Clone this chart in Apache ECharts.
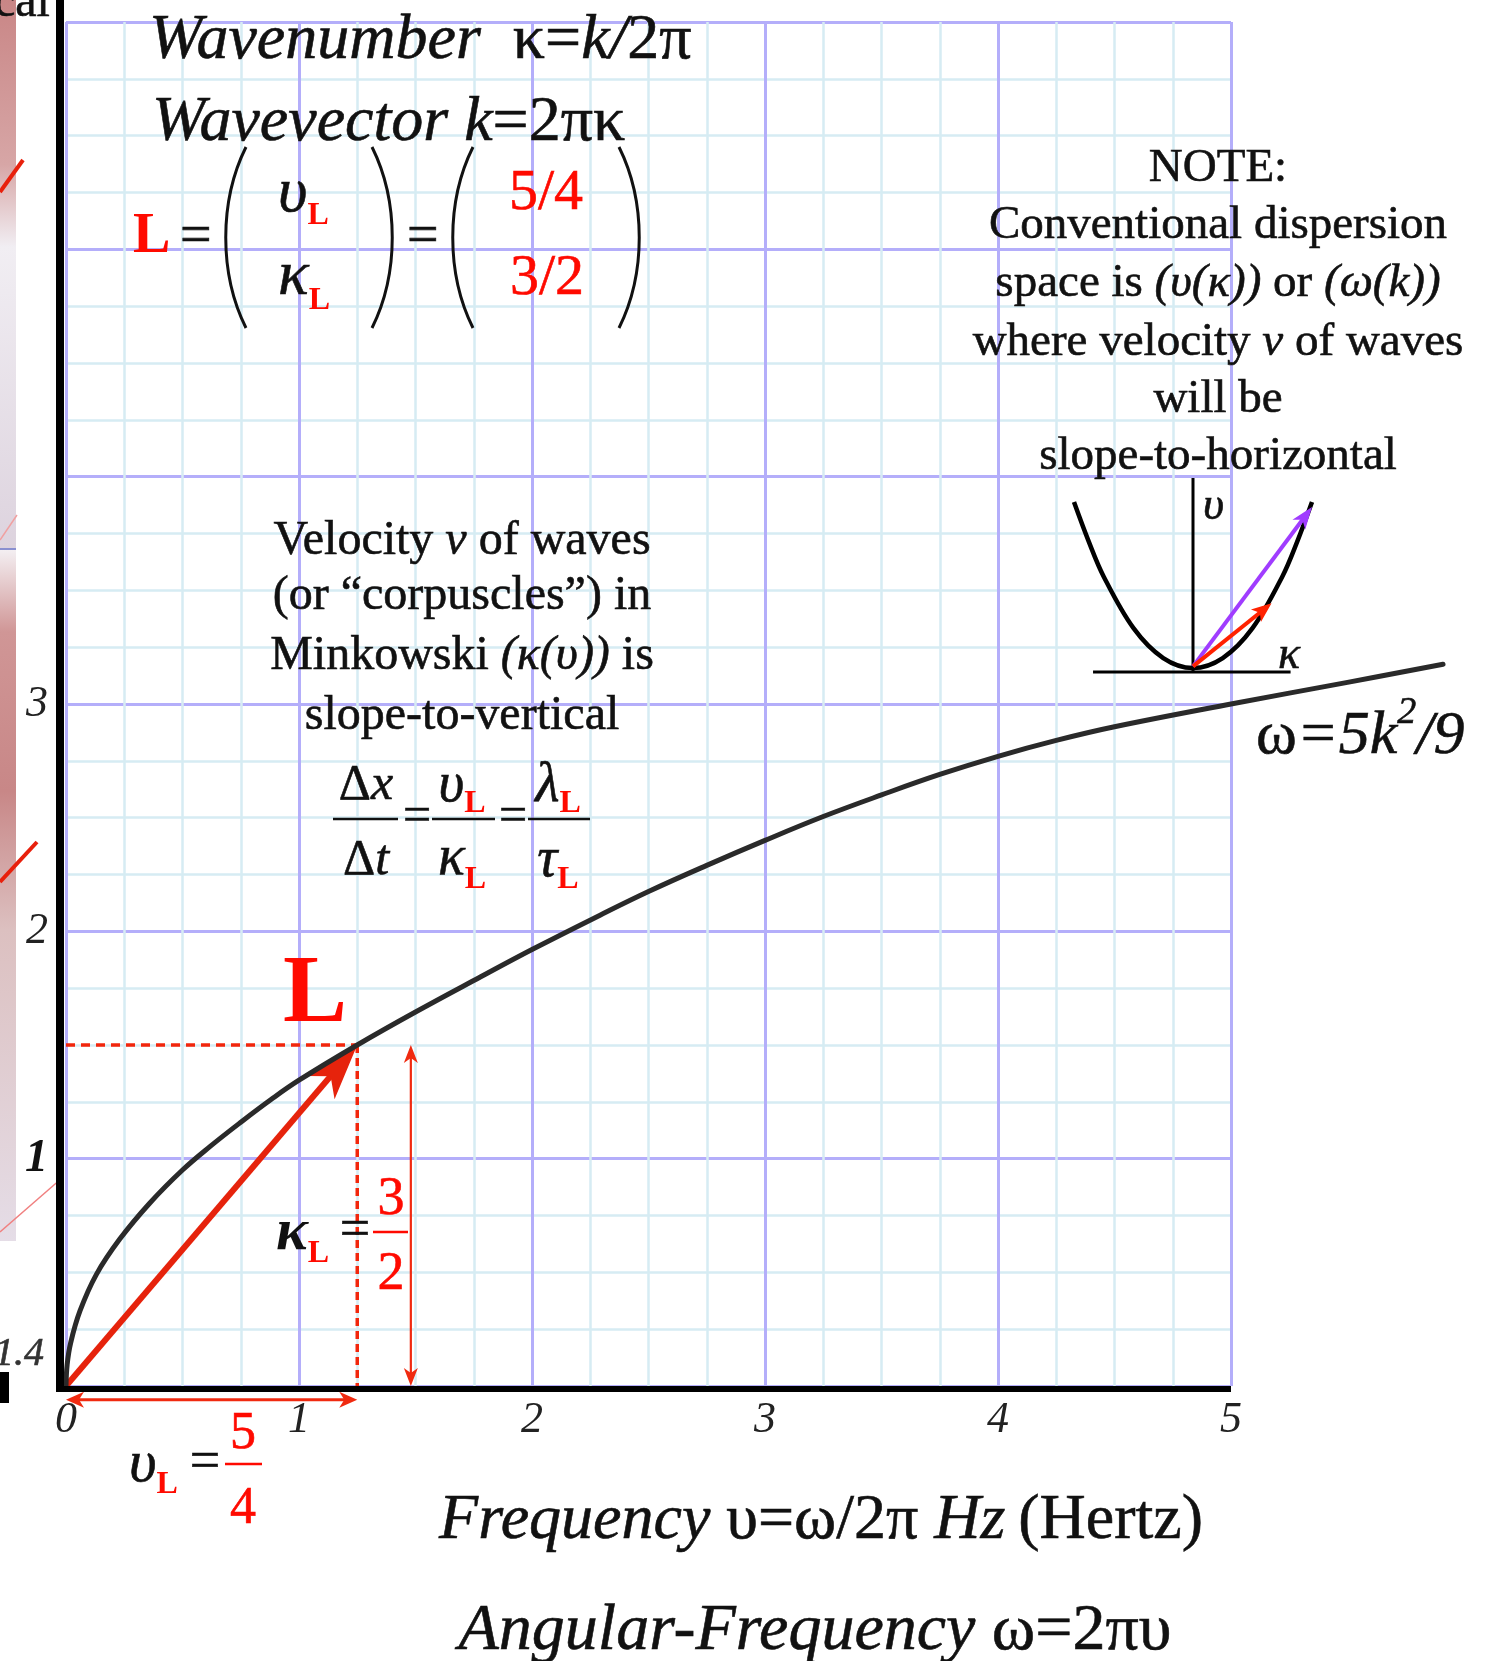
<!DOCTYPE html>
<html>
<head>
<meta charset="utf-8">
<title>Dispersion: frequency vs wavenumber</title>
<script src="https://cdn.jsdelivr.net/npm/echarts@6/dist/echarts.min.js"></script>
<style>
  html, body { margin: 0; padding: 0; background: #ffffff; }
  #chart { width: 1490px; height: 1661px; }
</style>
</head>
<body>
<div id="chart"></div>
<script>
// ---- data -------------------------------------------------------------
// Dispersion curve: frequency υ (Hz) on x, wavenumber κ on y
const FREQ = [0, 0.005, 0.02, 0.06, 0.13, 0.23, 0.36, 0.5, 0.62, 0.75, 0.88, 1.0, 1.25, 1.5, 1.78, 2.0, 2.29, 2.5, 2.75, 3.0, 3.25, 3.5, 3.75, 4.0, 4.25, 4.5, 5.0, 5.5, 5.91];
const WAVE = [0, 0.095, 0.19, 0.33, 0.49, 0.645, 0.805, 0.95, 1.055, 1.16, 1.26, 1.345, 1.5, 1.645, 1.80, 1.92, 2.07, 2.175, 2.29, 2.40, 2.505, 2.60, 2.69, 2.77, 2.84, 2.90, 3.0, 3.095, 3.175];

// Point L = (υ_L, κ_L)
const L_FREQ = [5, 4];   // υ_L = 5/4
const L_WAVE = [3, 2];   // κ_L = 3/2
const L_POINT = [L_FREQ[0] / L_FREQ[1], L_WAVE[0] / L_WAVE[1]];

// Axis ticks
const X_TICKS = [0, 1, 2, 3, 4, 5];
const Y_MAX = 6;
const Y_TICKS_SHOWN = [1, 2, 3];

// Inset sketch: conventional dispersion parabola υ(κ)
const INSET_K = [-1, -0.875, -0.75, -0.5, -0.25, 0, 0.25, 0.5, 0.75, 0.875, 1];
const INSET_V = [1, 0.76, 0.55, 0.24, 0.06, 0, 0.06, 0.24, 0.55, 0.76, 1];
const INSET_GROUP_ARROW = [0, 0.01, 1.0, 0.97];
const INSET_PHASE_ARROW = [0, 0.01, 0.66, 0.39];
const INSET_AXIS_H = [[-0.84, -0.024], [0.82, -0.024]];
const INSET_AXIS_V = [[0, -0.024], [0, 1.145]];

// ---- helpers ----------------------------------------------------------
const SERIF = '"Liberation Serif","Times New Roman",serif';
const RED = '#ff0a00';
const INK = '#111111';
const mctx = document.createElement('canvas').getContext('2d');

function fontStr(s) {
  return (s.i ? 'italic ' : '') + (s.b ? 'bold ' : '') + s.size + 'px ' + SERIF;
}

// Lay out a run of differently styled text pieces on one baseline
function runs(x, base, align, segs, defSize) {
  const items = segs.map(s => (typeof s === 'string' ? { t: s } : s))
    .map(s => Object.assign({ size: defSize || 46 }, s));
  const widths = items.map(s => { mctx.font = fontStr(s); return mctx.measureText(s.t).width; });
  const total = widths.reduce((a, b) => a + b, 0);
  let cx = align === 'center' ? x - total / 2 : (align === 'right' ? x - total : x);
  return items.map((s, k) => {
    const col = s.c || INK;
    const el = {
      type: 'text', z: 100, x: cx, y: base + (s.dy || 0) - 0.25 * s.size,
      style: {
        text: s.t, font: fontStr(s), fill: col,
        stroke: col, lineWidth: s.b ? 0 : 0.6,
        align: 'left', verticalAlign: 'middle', textAlign: 'left', textVerticalAlign: 'middle'
      }
    };
    cx += widths[k];
    return el;
  });
}

function hline(x1, x2, y, color, w) {
  return { type: 'line', z: 100, shape: { x1: x1, y1: y, x2: x2, y2: y }, style: { stroke: color, lineWidth: w || 2.5 } };
}

function paren(xl, top, bottom, right) {
  const w = 21, h = bottom - top;
  const shape = !right
    ? { x1: xl + w, y1: top, cpx1: xl - 6, cpy1: top + h * 0.3, cpx2: xl - 6, cpy2: bottom - h * 0.3, x2: xl + w, y2: bottom }
    : { x1: xl, y1: top, cpx1: xl + w + 6, cpy1: top + h * 0.3, cpx2: xl + w + 6, cpy2: bottom - h * 0.3, x2: xl, y2: bottom };
  return { type: 'bezierCurve', z: 100, shape: shape, style: { stroke: INK, lineWidth: 3, fill: null } };
}

// Arrow drawn in data coordinates: item = [x1, y1, x2, y2]
function arrowSeries(name, data, axisIdx, cfg) {
  return {
    type: 'custom', name: name, xAxisIndex: axisIdx, yAxisIndex: axisIdx,
    clip: false, z: cfg.z || 6, silent: true, data: data,
    renderItem: function (params, api) {
      const a = api.coord([api.value(0), api.value(1)]);
      const b = api.coord([api.value(2), api.value(3)]);
      const dx = b[0] - a[0], dy = b[1] - a[1];
      const len = Math.hypot(dx, dy);
      const ux = dx / len, uy = dy / len, px = -uy, py = ux;
      const head = (tip, dir) => {
        const bx = tip[0] - dir[0] * cfg.len, by = tip[1] - dir[1] * cfg.len;
        const nx = tip[0] - dir[0] * cfg.notch, ny = tip[1] - dir[1] * cfg.notch;
        return {
          type: 'polygon',
          shape: { points: [[tip[0], tip[1]], [bx + px * cfg.hw, by + py * cfg.hw], [nx, ny], [bx - px * cfg.hw, by - py * cfg.hw]] },
          style: { fill: cfg.color }
        };
      };
      const kids = [];
      let s = a, e = b;
      if (cfg.start) { s = [a[0] + ux * cfg.notch * 0.9, a[1] + uy * cfg.notch * 0.9]; kids.push(head(a, [-ux, -uy])); }
      if (cfg.end) { e = [b[0] - ux * cfg.notch * 0.9, b[1] - uy * cfg.notch * 0.9]; kids.push(head(b, [ux, uy])); }
      kids.unshift({ type: 'line', shape: { x1: s[0], y1: s[1], x2: e[0], y2: e[1] }, style: { stroke: cfg.color, lineWidth: cfg.width, lineCap: 'butt' } });
      return { type: 'group', children: kids };
    }
  };
}

// ---- chart ------------------------------------------------------------
const chart = echarts.init(document.getElementById('chart'), null, { renderer: 'canvas' });

const curveData = FREQ.map((f, i) => [f, WAVE[i]]);
const insetData = INSET_K.map((k, i) => [k, INSET_V[i]]);

// plot frame: x 0..5 over 1165 px, y 0..6
const PLOT = { left: 66, top: 22, bottom: 275, width: 1165 };
const X_MAX = X_TICKS[X_TICKS.length - 1];
const X_MAX_WIDE = 6;  // same scale, wider frame so the curve can run past υ = 5

const option = {
  animation: false,
  backgroundColor: '#ffffff',
  grid: [
    { left: PLOT.left, top: PLOT.top, bottom: PLOT.bottom, width: PLOT.width },
    { left: 1074, top: 502, width: 238, height: 166 },
    { left: PLOT.left, top: PLOT.top, bottom: PLOT.bottom, width: PLOT.width * X_MAX_WIDE / X_MAX }
  ],
  xAxis: [
    {
      gridIndex: 0, type: 'value', min: X_TICKS[0], max: X_MAX, interval: 1,
      axisLine: { show: false }, axisTick: { show: false },
      axisLabel: { fontFamily: SERIF, fontStyle: 'italic', fontSize: 44, color: '#222', margin: 12 },
      splitLine: { show: true, lineStyle: { color: '#b4aefa', width: 3 } },
      minorTick: { show: false, splitNumber: 4 },
      minorSplitLine: { show: true, lineStyle: { color: '#d6ecf3', width: 2.5 } }
    },
    { gridIndex: 1, type: 'value', min: -1, max: 1, show: false },
    { gridIndex: 2, type: 'value', min: 0, max: X_MAX_WIDE, show: false }
  ],
  yAxis: [
    {
      gridIndex: 0, type: 'value', min: 0, max: Y_MAX, interval: 1,
      axisLine: { show: false }, axisTick: { show: false },
      axisLabel: {
        fontFamily: SERIF, fontStyle: 'italic', fontSize: 44, color: '#222', margin: 18,
        formatter: v => (Y_TICKS_SHOWN.indexOf(v) < 0 ? '' : (v === 1 ? '{b|1}' : String(v))),
        rich: { b: { fontFamily: SERIF, fontStyle: 'italic', fontWeight: 'bold', fontSize: 46, color: '#111' } }
      },
      splitLine: { show: true, lineStyle: { color: '#b4aefa', width: 3 } },
      minorTick: { show: false, splitNumber: 4 },
      minorSplitLine: { show: true, lineStyle: { color: '#d6ecf3', width: 2.5 } }
    },
    { gridIndex: 1, type: 'value', min: 0, max: 1, show: false },
    { gridIndex: 2, type: 'value', min: 0, max: Y_MAX, show: false }
  ],
  series: [
    // dashed projections of L onto the axes
    {
      type: 'line', name: 'κL guide', xAxisIndex: 0, yAxisIndex: 0, symbol: 'none', clip: false, z: 4,
      data: [[0, L_POINT[1]], [L_POINT[0], L_POINT[1]]],
      lineStyle: { color: '#f2260c', width: 3.5, type: [9, 6] }
    },
    {
      type: 'line', name: 'υL guide', xAxisIndex: 0, yAxisIndex: 0, symbol: 'none', clip: false, z: 4,
      data: [[L_POINT[0], L_POINT[1]], [L_POINT[0], 0]],
      lineStyle: { color: '#f2260c', width: 3.5, type: [8, 5] }
    },
    // vector from origin to L
    arrowSeries('L vector', [[0, 0, L_POINT[0], L_POINT[1]]], 0,
      { color: '#e6230c', width: 6, len: 56, hw: 18, notch: 41, end: true, z: 7 }),
    // κ_L dimension arrow
    arrowSeries('κL span', [[1.48, 0, 1.48, L_POINT[1]]], 0,
      { color: '#f02a10', width: 2.2, len: 18, hw: 7, notch: 13, start: true, end: true, z: 7 }),
    // υ_L dimension arrow, just under the frequency axis
    arrowSeries('υL span', [[0, -0.06, L_POINT[0], -0.06]], 0,
      { color: '#f02a10', width: 3, len: 18, hw: 8, notch: 13, start: true, end: true, z: 7 }),
    // dispersion curve ω = 5k²/9
    {
      type: 'line', name: 'ω=5k²/9', xAxisIndex: 2, yAxisIndex: 2, data: curveData,
      smooth: 0.4, symbol: 'none', clip: false, z: 8,
      lineStyle: { color: '#2a2a2a', width: 5, cap: 'round', join: 'round' }
    },
    // inset sketch
    {
      type: 'line', name: 'inset κ axis', xAxisIndex: 1, yAxisIndex: 1, data: INSET_AXIS_H,
      symbol: 'none', clip: false, z: 9, lineStyle: { color: '#000', width: 3 }
    },
    {
      type: 'line', name: 'inset υ axis', xAxisIndex: 1, yAxisIndex: 1, data: INSET_AXIS_V,
      symbol: 'none', clip: false, z: 9, lineStyle: { color: '#000', width: 3 }
    },
    {
      type: 'line', name: 'inset parabola', xAxisIndex: 1, yAxisIndex: 1, data: insetData,
      smooth: 0.35, symbol: 'none', clip: false, z: 9, lineStyle: { color: '#000', width: 4.5, join: 'round' }
    },
    arrowSeries('inset group', [INSET_GROUP_ARROW], 1,
      { color: '#a03cff', width: 4, len: 22, hw: 8, notch: 16, end: true, z: 10 }),
    arrowSeries('inset phase', [INSET_PHASE_ARROW], 1,
      { color: '#ff2200', width: 4, len: 20, hw: 8, notch: 15, end: true, z: 10 })
  ]
};

chart.setOption(option);

// ---- annotations ------------------------------------------------------
const o = chart.convertToPixel({ gridIndex: 0 }, [0, 0]);
const tr = chart.convertToPixel({ gridIndex: 0 }, [X_MAX, Y_MAX]);

const g = [];

// heavy black axes
g.push({ type: 'line', z: 90, shape: { x1: o[0] - 6, y1: 0, x2: o[0] - 6, y2: o[1] + 6 }, style: { stroke: '#000', lineWidth: 8 } });
g.push({ type: 'line', z: 90, shape: { x1: o[0] - 10, y1: o[1] + 3, x2: tr[0], y2: o[1] + 3 }, style: { stroke: '#000', lineWidth: 6 } });

// strip of a neighbouring panel at the far left
g.push({
  type: 'rect', z: 1, shape: { x: 0, y: 0, width: 16, height: 549 },
  style: { fill: new echarts.graphic.LinearGradient(0, 0, 0, 1, [
    { offset: 0, color: '#c98686' }, { offset: 0.3, color: '#d7a6a6' },
    { offset: 0.45, color: '#f1eef3' }, { offset: 1, color: '#ddd3de' }]) }
});
g.push({
  type: 'rect', z: 1, shape: { x: 0, y: 549, width: 16, height: 692 },
  style: { fill: new echarts.graphic.LinearGradient(0, 0, 0, 1, [
    { offset: 0, color: '#f4f0f3' }, { offset: 0.12, color: '#d09696' },
    { offset: 0.35, color: '#c88787' }, { offset: 0.55, color: '#dcc0c0' }, { offset: 1, color: '#e5dde7' }]) }
});
g.push({ type: 'line', z: 2, shape: { x1: 0, y1: 549, x2: 16, y2: 549 }, style: { stroke: '#8a90d0', lineWidth: 2 } });
g.push({ type: 'line', z: 2, shape: { x1: 0, y1: 192, x2: 23, y2: 160 }, style: { stroke: '#e8200c', lineWidth: 4 } });
g.push({ type: 'line', z: 2, shape: { x1: 0, y1: 882, x2: 37, y2: 842 }, style: { stroke: '#e8200c', lineWidth: 4 } });
g.push({ type: 'line', z: 2, shape: { x1: 0, y1: 540, x2: 17, y2: 515 }, style: { stroke: '#f0a0a0', lineWidth: 1.5 } });
g.push({ type: 'line', z: 2, shape: { x1: 0, y1: 1232, x2: 62, y2: 1178 }, style: { stroke: '#f08080', lineWidth: 1.5 } });
g.push({ type: 'rect', z: 2, shape: { x: 0, y: 1372, width: 9, height: 31 }, style: { fill: '#000' } });
g.push(...runs(-6, 15, 'left', [{ t: 'cal', size: 48 }]));
g.push(...runs(-6, 1364, 'left', [{ t: '1.4', size: 40, i: 1, c: '#333' }]));

// headings
g.push(...runs(149, 57, 'left', [{ t: 'Wavenumber  ', i: 1 }, { t: 'κ=' }, { t: 'k/', i: 1 }, { t: '2π' }], 64));
g.push(...runs(152, 139, 'left', [{ t: 'Wavevector k', i: 1 }, { t: '=2πκ' }], 64));

// L column vector
g.push(...runs(133, 252, 'left', [{ t: 'L', size: 56, b: 1, c: RED }]));
g.push(...runs(180, 252, 'left', [{ t: '=', size: 56 }]));
g.push(paren(225, 147, 328, false));
g.push(...runs(278, 210, 'left', [{ t: 'υ', size: 64, i: 1 }, { t: 'L', size: 32, b: 1, c: RED, dy: 14 }]));
g.push(...runs(278, 293, 'left', [{ t: 'κ', size: 64, i: 1 }, { t: 'L', size: 32, b: 1, c: RED, dy: 16 }]));
g.push(paren(372, 147, 328, true));
g.push(...runs(407, 252, 'left', [{ t: '=', size: 56 }]));
g.push(paren(452, 147, 328, false));
g.push(...runs(546, 208, 'center', [{ t: L_FREQ[0] + '/' + L_FREQ[1], size: 58, c: RED }]));
g.push(...runs(547, 293, 'center', [{ t: L_WAVE[0] + '/' + L_WAVE[1], size: 58, c: RED }]));
g.push(paren(619, 147, 328, true));

// velocity note (Minkowski view)
const VX = 462;
g.push(...runs(VX, 553, 'center', ['Velocity ', { t: 'v', i: 1 }, ' of waves'], 48));
g.push(...runs(VX, 608, 'center', ['(or “corpuscles”) in'], 48));
g.push(...runs(VX, 668, 'center', ['Minkowski ', { t: '(κ(υ))', i: 1 }, ' is'], 48));
g.push(...runs(VX, 728, 'center', ['slope-to-vertical'], 48));

// Δx/Δt = υL/κL = λL/τL
g.push(...runs(366, 798, 'center', [{ t: 'Δ' }, { t: 'x', i: 1 }], 50));
g.push(...runs(366, 873, 'center', [{ t: 'Δ' }, { t: 't', i: 1 }], 50));
g.push(hline(333, 398, 819, INK, 2.5));
g.push(...runs(417, 830, 'center', [{ t: '=' }], 50));
g.push(...runs(462, 800, 'center', [{ t: 'υ', size: 56, i: 1 }, { t: 'L', size: 32, b: 1, c: RED, dy: 12 }]));
g.push(...runs(462, 873, 'center', [{ t: 'κ', size: 56, i: 1 }, { t: 'L', size: 32, b: 1, c: RED, dy: 15 }]));
g.push(hline(432, 495, 819, INK, 2.5));
g.push(...runs(513, 830, 'center', [{ t: '=' }], 50));
g.push(...runs(558, 800, 'center', [{ t: 'λ', size: 56, i: 1 }, { t: 'L', size: 32, b: 1, c: RED, dy: 12 }]));
g.push(...runs(558, 875, 'center', [{ t: 'τ', size: 56, i: 1 }, { t: 'L', size: 32, b: 1, c: RED, dy: 13 }]));
g.push(hline(528, 590, 819, INK, 2.5));

// big L marker label
g.push(...runs(283, 1020, 'left', [{ t: 'L', size: 96, b: 1, c: RED }]));

// κ_L = 3/2
g.push(...runs(276, 1248, 'left', [{ t: 'κ', size: 60, i: 1, b: 1 }, { t: 'L', size: 32, b: 1, c: RED, dy: 14 }]));
g.push(...runs(355, 1245, 'center', [{ t: '=', size: 54 }]));
g.push(hline(373, 408, 1232, RED, 2.5));
g.push(...runs(391, 1213, 'center', [{ t: String(L_WAVE[0]), size: 54, c: RED }]));
g.push(...runs(391, 1288, 'center', [{ t: String(L_WAVE[1]), size: 54, c: RED }]));

// υ_L = 5/4
g.push(...runs(129, 1480, 'left', [{ t: 'υ', size: 60, i: 1 }, { t: 'L', size: 32, b: 1, c: RED, dy: 13 }]));
g.push(...runs(205, 1477, 'center', [{ t: '=', size: 54 }]));
g.push(hline(225, 262, 1464, RED, 2.5));
g.push(...runs(243, 1447, 'center', [{ t: String(L_FREQ[0]), size: 52, c: RED }]));
g.push(...runs(243, 1522, 'center', [{ t: String(L_FREQ[1]), size: 52, c: RED }]));

// conventional dispersion note
const NX = 1218;
g.push(...runs(NX, 180, 'center', ['NOTE:'], 47));
g.push(...runs(NX, 237, 'center', ['Conventional dispersion'], 47));
g.push(...runs(NX, 295, 'center', ['space is ', { t: '(υ(κ))', i: 1 }, ' or ', { t: '(ω(k))', i: 1 }], 47));
g.push(...runs(NX, 354, 'center', ['where velocity ', { t: 'v', i: 1 }, ' of waves'], 47));
g.push(...runs(NX, 411, 'center', ['will be'], 47));
g.push(...runs(NX, 468, 'center', ['slope-to-horizontal'], 47));

// inset axis names
g.push(...runs(1203, 518, 'left', [{ t: 'υ', size: 46, i: 1 }]));
g.push(...runs(1278, 667, 'left', [{ t: 'κ', size: 46, i: 1 }]));

// curve label
g.push(...runs(1256, 752, 'left', [{ t: 'ω' }, { t: '=5k', i: 1 }, { t: '2', i: 1, size: 38, dy: -29 }, { t: '/9', i: 1 }], 62));

// axis titles
g.push(...runs(821, 1537, 'center', [{ t: 'Frequency ', i: 1 }, { t: 'υ=ω/2π ' }, { t: 'Hz', i: 1 }, { t: '\u2009(Hertz)' }], 64));
g.push(...runs(815, 1648, 'center', [{ t: 'Angular-Frequency ', i: 1 }, { t: 'ω=2πυ' }], 66));

chart.setOption({ graphic: { elements: g } });
</script>
</body>
</html>
